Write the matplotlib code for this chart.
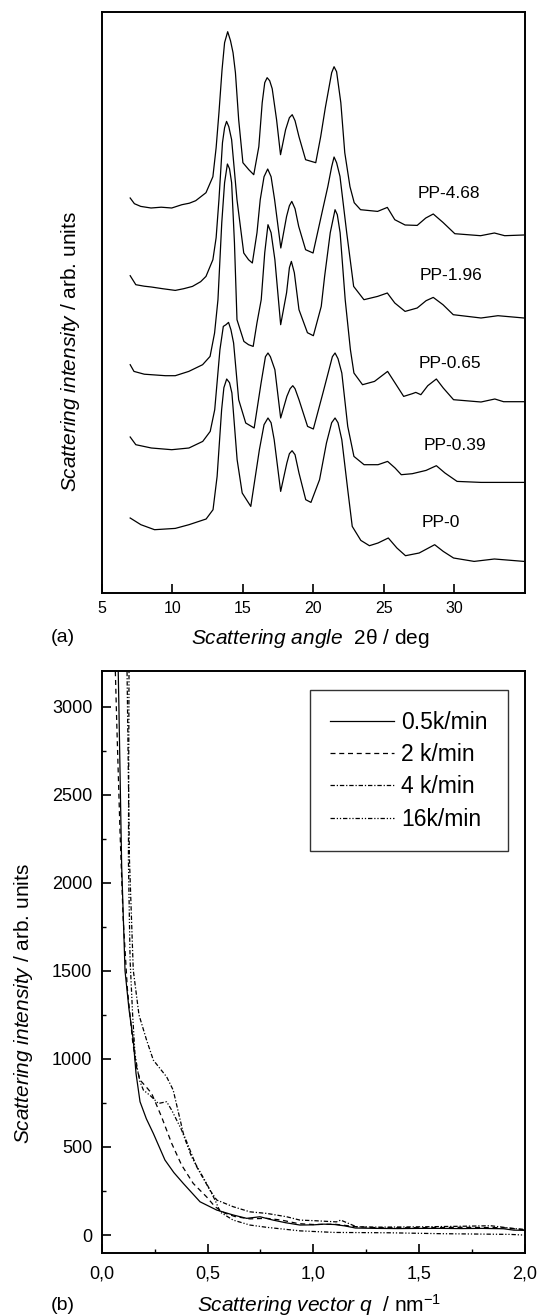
import matplotlib
matplotlib.use("Agg")
import matplotlib.pyplot as plt
from matplotlib.ticker import MultipleLocator

plt.rcParams['font.family'] = ['Liberation Sans', 'DejaVu Sans']
plt.rcParams['mathtext.fontset'] = 'custom'
plt.rcParams['mathtext.rm'] = 'Liberation Sans'
plt.rcParams['mathtext.it'] = 'Liberation Sans:italic'

# ---- panel (a): WAXS patterns, stacked (values already include offsets)
tth_468 = [7.0, 7.3, 7.75, 8.48, 9.2, 9.95, 10.67, 11.2, 11.65, 12.38, 12.87, 13.1, 13.3, 13.52, 13.7,
           13.92, 14.12, 14.3, 14.47, 14.7, 15.0, 15.42, 15.77, 16.13, 16.37, 16.55, 16.72, 16.9, 17.08,
           17.39, 17.67, 18.03, 18.3, 18.5, 18.7, 18.98, 19.45, 20.17, 20.52, 20.85, 21.12, 21.3, 21.47,
           21.65, 21.95, 22.23, 22.6, 22.9, 23.35, 24.56, 25.25, 25.78, 26.51, 27.37, 27.98, 28.51, 29.2,
           30.04, 31.87, 32.85, 33.58, 34.92]
int_468 = [394.7, 389, 386.3, 384.7, 385.5, 384.7, 388, 389.5, 392, 400, 416, 445, 480, 523, 550,
           561, 552, 540, 520, 473, 430, 423, 418, 446, 490, 510, 515, 512, 504,
           473, 438, 463, 475, 478, 472, 456, 433, 430, 456, 485, 506, 520, 526,
           521, 490, 440, 406, 390, 383, 381.3, 385.3, 373, 367.7, 367.3, 374.7, 378.7, 370.3,
           359, 357, 359.7, 357, 357.7]

tth_196 = [7.0, 7.4, 8.0, 8.5, 9.3, 10.2, 10.8, 11.42, 12.0, 12.38, 12.87, 13.1, 13.3, 13.55, 13.7,
           13.84, 14.0, 14.2, 14.58, 15.06, 15.4, 15.67, 16.0, 16.23, 16.5, 16.76, 17.0, 17.25, 17.69,
           18.1, 18.3, 18.47, 18.7, 18.96, 19.45, 19.98, 20.66, 21.03, 21.3, 21.47, 21.65, 21.89, 22.37,
           22.86, 23.59, 24.56, 25.25, 25.78, 26.51, 27.37, 28.0, 28.51, 29.2, 29.93, 31.9, 33.1, 34.95]
int_196 = [317, 308, 306.5, 305.7, 304, 302.3, 304, 306.3, 311, 316.3, 333, 355, 393, 450, 465,
           471.3, 466, 453, 393, 339.7, 333, 329.7, 360, 393, 416, 423.7, 416, 393, 344.7,
           376.3, 387, 391.3, 384, 366.3, 343, 339.7, 383, 406.3, 426, 435.7, 430, 416.3, 359.7,
           306.3, 293, 296.3, 299.7, 289.7, 281.3, 284.7, 292, 295.3, 288, 278, 274.7, 277, 274.7]

tth_065 = [7.0, 7.27, 8.0, 8.5, 9.5, 10.2, 11.16, 12.14, 12.67, 12.99, 13.23, 13.5, 13.7, 13.9, 14.05,
           14.2, 14.4, 14.58, 15.07, 15.4, 15.73, 16.0, 16.3, 16.55, 16.78, 17.0, 17.27, 17.68, 18.1,
           18.3, 18.44, 18.65, 18.98, 19.58, 20.0, 20.56, 20.8, 21.2, 21.54, 21.7, 21.9, 22.26, 22.63,
           22.88, 23.49, 24.34, 25.27, 25.8, 26.41, 27.02, 27.27, 27.63, 28.12, 28.73, 29.22, 29.95,
           31.9, 32.88, 33.5, 34.95]
int_065 = [228, 221.3, 218.5, 218, 217, 217, 221.3, 228, 236.3, 259.7, 293, 370, 410, 428.7, 424,
           410, 350, 273, 251.3, 248, 246.3, 270, 293, 340, 368, 360, 333, 268, 300,
           325, 331.3, 320, 283, 260, 257, 286.3, 316.3, 360, 383, 378, 360, 293, 243,
           219.7, 208, 211.3, 221.3, 209.7, 196.3, 199, 200.3, 198, 207, 213.7, 204.7, 193,
           190.7, 193.7, 191, 191]

tth_039 = [7.0, 7.4, 8.5, 9.95, 11.17, 12.15, 12.68, 13.0, 13.37, 13.61, 13.8, 13.98, 14.15, 14.34,
           14.7, 15.2, 15.8, 16.29, 16.6, 16.78, 16.95, 17.27, 17.68, 18.12, 18.35, 18.54, 18.7, 18.98,
           19.59, 20.0, 20.68, 21.05, 21.35, 21.54, 21.75, 22.02, 22.44, 22.88, 23.6, 24.59, 25.27,
           25.8, 26.24, 27.02, 28.0, 28.73, 29.34, 30.2, 31.9, 34.95]
int_039 = [155.7, 148, 144.7, 143, 144.7, 151.3, 161.3, 183, 243, 266.3, 268, 270.3, 263, 249.7,
           193, 169.7, 164.7, 209.7, 236, 239.7, 236, 223, 174.7, 196.3, 204, 207, 204, 193,
           166.3, 163.7, 199.7, 219.7, 236, 239.7, 234, 219.7, 166.3, 136.3, 128, 128, 131.3,
           124.7, 118, 119, 122.3, 127, 119.7, 111.3, 110.3, 110.3]

tth_0 = [7.0, 7.76, 8.73, 10.2, 11.17, 12.39, 12.88, 13.17, 13.49, 13.65, 13.85, 14.05, 14.22, 14.59,
         14.95, 15.56, 16.17, 16.5, 16.78, 17.0, 17.22, 17.68, 18.12, 18.3, 18.49, 18.7, 18.98, 19.46,
         19.83, 20.44, 20.93, 21.3, 21.54, 21.75, 22.02, 22.44, 22.76, 23.37, 23.98, 24.59, 25.32,
         25.93, 26.54, 27.51, 28.61, 29.22, 29.95, 31.41, 32.85, 34.95]
int_0 = [74.7, 68, 63, 64.3, 68, 73.7, 83, 116.3, 183, 205, 213.7, 210, 199.7, 133,
         99.7, 86.3, 143, 168, 174.7, 170, 153, 101.3, 129.7, 139, 142, 138, 119.7, 93,
         90.3, 113, 149.7, 170, 174.7, 170, 153, 103, 66.3, 52.3, 47, 49.7, 54.7,
         44.7, 37, 39.7, 48, 41.3, 34.7, 31.3, 33.7, 31.3]

waxs = [(tth_468, int_468), (tth_196, int_196), (tth_065, int_065), (tth_039, int_039), (tth_0, int_0)]
waxs_names = ['PP-4.68', 'PP-1.96', 'PP-0.65', 'PP-0.39', 'PP-0']
name_pos = [(29.6, 398.7), (29.76, 317), (29.68, 229.7), (30.02, 147), (29.02, 70.3)]

# ---- panel (b): SAXS curves
q_05 = [0.076, 0.080, 0.093, 0.109, 0.128, 0.148, 0.161, 0.180, 0.21, 0.243, 0.298, 0.34, 0.385, 0.464,
        0.543, 0.621, 0.685, 0.748, 0.81, 0.87, 0.937, 1.0, 1.05, 1.1, 1.15, 1.2, 1.3, 1.4, 1.5, 1.6,
        1.7, 1.8, 1.9, 1.95, 2.0]
i_05 = [3250, 3000, 2100, 1500, 1280, 1107, 918, 757, 660, 577, 426, 355, 293, 189,
        142, 114, 95, 104, 85, 70, 57, 58, 62, 60, 52, 40, 38, 37, 38, 38,
        37, 38, 36, 28, 27]

q_2 = [0.062, 0.07, 0.085, 0.1, 0.12, 0.145, 0.163, 0.18, 0.21, 0.235, 0.282, 0.33, 0.377, 0.432, 0.495,
       0.535, 0.58, 0.63, 0.7, 0.78, 0.85, 0.93, 1.0, 1.1, 1.2, 1.3, 1.5, 1.7, 1.9, 2.0]
i_2 = [3250, 2900, 2300, 1800, 1400, 1100, 955, 880, 840, 804, 671, 520, 397, 293, 217,
       161, 125, 105, 92, 95, 85, 65, 60, 62, 48, 42, 42, 44, 42, 30]

q_4 = [0.118, 0.13, 0.148, 0.175, 0.211, 0.243, 0.306, 0.337, 0.385, 0.448, 0.511, 0.543, 0.621, 0.7,
       0.78, 0.874, 0.937, 1.0, 1.11, 1.13, 1.205, 1.3, 1.52, 1.7, 1.84, 1.93, 2.0]
i_4 = [3250, 2130, 1504, 1250, 1107, 993, 898, 823, 577, 388, 255, 199, 161, 132,
       123, 104, 85, 82, 75, 85, 47, 45, 47, 50, 53, 40, 32]

q_16 = [0.128, 0.125, 0.133, 0.145, 0.156, 0.168, 0.18, 0.196, 0.23, 0.267, 0.306, 0.33, 0.377, 0.424,
        0.495, 0.535, 0.56, 0.621, 0.7, 0.78, 0.937, 1.1, 1.363, 1.6, 1.93, 2.0]
i_16 = [3250, 2130, 1560, 1250, 1031, 940, 870, 823, 790, 747, 757, 709, 596, 444,
        293, 199, 130, 85, 57, 44, 24, 15, 13, 8, 4, 0]

saxs = [(q_05, i_05), (q_2, i_2), (q_4, i_4), (q_16, i_16)]
saxs_labels = ['0.5k/min', '2 k/min', '4 k/min', '16k/min']
saxs_styles = ['-', (0, (4, 3)), (0, (3.5, 1.5, 1, 1.5)), (0, (3.5, 1.5, 1, 1.5, 1, 1.5))]

q_ticks = [0.0, 0.5, 1.0, 1.5, 2.0]
q_tick_labels = ['0,0', '0,5', '1,0', '1,5', '2,0']

W, H = 538, 1316
fig = plt.figure(figsize=(W / 100, H / 100), dpi=100)

# panel (a)
ax1 = fig.add_axes([102 / W, 1 - 592.7 / H, 422.7 / W, 580.7 / H])
for (x, y) in waxs:
    ax1.plot(x, y, color='black', lw=0.9)
for name, (x, y) in zip(waxs_names, name_pos):
    ax1.text(x, y, name, fontsize=12.5, ha='center', va='center')
ax1.set_xlim(5, 35)
ax1.set_ylim(0, 580.7)
ax1.set_xticks([5, 10, 15, 20, 25, 30])
ax1.set_yticks([])
ax1.tick_params(axis='x', direction='in', length=6.5, width=1.2, labelsize=11.5, pad=6)
for s in ax1.spines.values():
    s.set_linewidth(1.4)

# panel (b)
ax2 = fig.add_axes([102 / W, 1 - 1252.7 / H, 422.5 / W, 581.4 / H])
for (x, y), lab, ls in zip(saxs, saxs_labels, saxs_styles):
    ax2.plot(x, y, color='black', lw=0.9, linestyle=ls, label=lab)
ax2.set_xlim(0, 2.0)
ax2.set_ylim(-100, 3200)
ax2.set_xticks(q_ticks)
ax2.set_xticklabels(q_tick_labels)
ax2.xaxis.set_minor_locator(MultipleLocator(0.25))
ax2.yaxis.set_major_locator(MultipleLocator(500))
ax2.yaxis.set_minor_locator(MultipleLocator(250))
ax2.tick_params(which='major', direction='in', length=6.5, width=1.2, labelsize=13)
ax2.tick_params(which='minor', direction='in', length=3.2, width=1.0)
ax2.tick_params(axis='x', which='major', pad=9)
ax2.tick_params(axis='y', which='major', pad=7)
for s in ax2.spines.values():
    s.set_linewidth(1.4)

leg = ax2.legend(loc='upper right', bbox_to_anchor=(0.962, 0.967), borderaxespad=0,
                 fontsize=16.5, frameon=True, fancybox=False, handlelength=2.8,
                 handletextpad=0.3, labelspacing=0.4, borderpad=0.9)
leg.get_frame().set_edgecolor('black')
leg.get_frame().set_linewidth(1.0)

# labels placed in figure pixels
def px(x, y):
    return x / W, 1 - y / H

fig.text(*px(71, 352), r'$\mathit{Scattering\ intensity}$ / arb. units', rotation=90,
         fontsize=15, ha='center', va='center')
fig.text(*px(310, 638), r'$\mathit{Scattering\ angle}$  2θ / deg', fontsize=15,
         ha='center', va='center')
fig.text(*px(63, 638), '(a)', fontsize=14, ha='center', va='center')

fig.text(*px(24, 1004), r'$\mathit{Scattering\ intensity}$ / arb. units', rotation=90,
         fontsize=15, ha='center', va='center')
fig.text(*px(319, 1305), r'$\mathit{Scattering\ vector\ q}$  / nm$^{-1}$', fontsize=15,
         ha='center', va='center')
fig.text(*px(63, 1305), '(b)', fontsize=14, ha='center', va='center')

fig.savefig('out.png', dpi=100)
